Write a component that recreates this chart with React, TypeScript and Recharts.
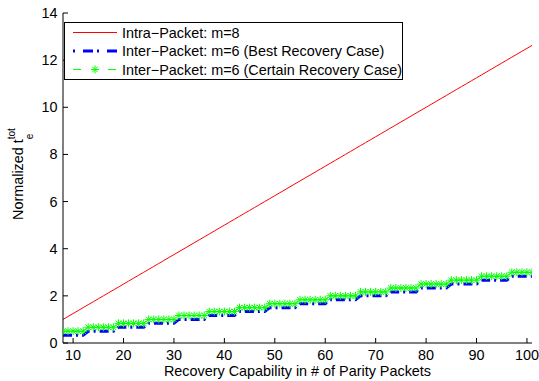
import React from 'react';
import { LineChart, Line, XAxis, YAxis, Legend } from 'recharts';

const xValues = [
  8, 9, 10, 11, 12, 13, 14, 15, 16, 17, 18, 19, 20, 21, 22, 23, 24, 25, 26, 27,
  28, 29, 30, 31, 32, 33, 34, 35, 36, 37, 38, 39, 40, 41, 42, 43, 44, 45, 46, 47,
  48, 49, 50, 51, 52, 53, 54, 55, 56, 57, 58, 59, 60, 61, 62, 63, 64, 65, 66, 67,
  68, 69, 70, 71, 72, 73, 74, 75, 76, 77, 78, 79, 80, 81, 82, 83, 84, 85, 86, 87,
  88, 89, 90, 91, 92, 93, 94, 95, 96, 97, 98, 99, 100, 101,
];

const intraM8 = [
  1, 1.125, 1.25, 1.375, 1.5, 1.625, 1.75, 1.875,
  2, 2.125, 2.25, 2.375, 2.5, 2.625, 2.75, 2.875,
  3, 3.125, 3.25, 3.375, 3.5, 3.625, 3.75, 3.875,
  4, 4.125, 4.25, 4.375, 4.5, 4.625, 4.75, 4.875,
  5, 5.125, 5.25, 5.375, 5.5, 5.625, 5.75, 5.875,
  6, 6.125, 6.25, 6.375, 6.5, 6.625, 6.75, 6.875,
  7, 7.125, 7.25, 7.375, 7.5, 7.625, 7.75, 7.875,
  8, 8.125, 8.25, 8.375, 8.5, 8.625, 8.75, 8.875,
  9, 9.125, 9.25, 9.375, 9.5, 9.625, 9.75, 9.875,
  10, 10.125, 10.25, 10.375, 10.5, 10.625, 10.75, 10.875,
  11, 11.125, 11.25, 11.375, 11.5, 11.625, 11.75, 11.875,
  12, 12.125, 12.25, 12.375, 12.5, 12.625,
];

const interBest = [
  0.333, 0.333, 0.333, 0.333, 0.333,
  0.5, 0.5, 0.5, 0.5, 0.5, 0.5,
  0.667, 0.667, 0.667, 0.667, 0.667, 0.667,
  0.833, 0.833, 0.833, 0.833, 0.833, 0.833,
  1, 1, 1, 1, 1, 1,
  1.167, 1.167, 1.167, 1.167, 1.167, 1.167,
  1.333, 1.333, 1.333, 1.333, 1.333, 1.333,
  1.5, 1.5, 1.5, 1.5, 1.5, 1.5,
  1.667, 1.667, 1.667, 1.667, 1.667, 1.667,
  1.833, 1.833, 1.833, 1.833, 1.833, 1.833,
  2, 2, 2, 2, 2, 2,
  2.167, 2.167, 2.167, 2.167, 2.167, 2.167,
  2.333, 2.333, 2.333, 2.333, 2.333, 2.333,
  2.5, 2.5, 2.5, 2.5, 2.5, 2.5,
  2.667, 2.667, 2.667, 2.667, 2.667, 2.667,
  2.833, 2.833, 2.833, 2.833, 2.833,
];

const interCertain = [
  0.5, 0.5, 0.5, 0.5, 0.5,
  0.667, 0.667, 0.667, 0.667, 0.667, 0.667,
  0.833, 0.833, 0.833, 0.833, 0.833, 0.833,
  1, 1, 1, 1, 1, 1,
  1.167, 1.167, 1.167, 1.167, 1.167, 1.167,
  1.333, 1.333, 1.333, 1.333, 1.333, 1.333,
  1.5, 1.5, 1.5, 1.5, 1.5, 1.5,
  1.667, 1.667, 1.667, 1.667, 1.667, 1.667,
  1.833, 1.833, 1.833, 1.833, 1.833, 1.833,
  2, 2, 2, 2, 2, 2,
  2.167, 2.167, 2.167, 2.167, 2.167, 2.167,
  2.333, 2.333, 2.333, 2.333, 2.333, 2.333,
  2.5, 2.5, 2.5, 2.5, 2.5, 2.5,
  2.667, 2.667, 2.667, 2.667, 2.667, 2.667,
  2.833, 2.833, 2.833, 2.833, 2.833, 2.833,
  3, 3, 3, 3, 3,
];

const xTicks = [10, 20, 30, 40, 50, 60, 70, 80, 90, 100];
const yTicks = [0, 2, 4, 6, 8, 10, 12, 14];
const xDomain = [8, 101];
const yDomain = [0, 14];

const seriesNames = [
  'Intra\u2212Packet: m=8',
  'Inter\u2212Packet: m=6 (Best Recovery Case)',
  'Inter\u2212Packet: m=6 (Certain Recovery Case)',
];
const xLabel = 'Recovery Capability in # of Parity Packets';
const yLabelMain = 'Normalized t';
const yLabelSup = 'tot';
const yLabelSub = 'e';

const data = xValues.map((x, i) => ({
  x,
  intra: intraM8[i],
  best: interBest[i],
  certain: interCertain[i],
}));

const FONT = 'Arial, "Liberation Sans", Helvetica, sans-serif';
const FS = 14.4;
const RED = '#ff0000';
const BLUE = '#0000ff';
const GREEN = '#00ff00';
const BLUE_DASH = '9 4 2 4';

const Star = (cx: number, cy: number, r: number, key?: any) => (
  <g key={key}>
    <line x1={cx - r} y1={cy} x2={cx + r} y2={cy} stroke={GREEN} strokeWidth={1} />
    <line x1={cx} y1={cy - r} x2={cx} y2={cy + r} stroke={GREEN} strokeWidth={1} />
    <line x1={cx - r * 0.7} y1={cy - r * 0.7} x2={cx + r * 0.7} y2={cy + r * 0.7} stroke={GREEN} strokeWidth={1} />
    <line x1={cx - r * 0.7} y1={cy + r * 0.7} x2={cx + r * 0.7} y2={cy - r * 0.7} stroke={GREEN} strokeWidth={1} />
  </g>
);

const renderStar = (props: any) => {
  const { cx, cy, key, index } = props;
  if (cx == null || cy == null) return <g key={key ?? index} />;
  return Star(cx, cy, 4, key ?? `s-${index}`);
};

const BottomTick = (props: any) => {
  const { x, y, payload } = props;
  return (
    <g>
      <line x1={x} y1={y} x2={x} y2={y - 5} stroke="#000" strokeWidth={1} />
      <text x={x} y={y + 17} textAnchor="middle" fontSize={FS} fontFamily={FONT} fill="#000">
        {payload.value}
      </text>
    </g>
  );
};

const TopTick = (props: any) => {
  const { x, y } = props;
  return <line x1={x} y1={y} x2={x} y2={y + 5} stroke="#000" strokeWidth={1} />;
};

const LeftTick = (props: any) => {
  const { x, y, payload } = props;
  return (
    <g>
      <line x1={x} y1={y} x2={x + 5} y2={y} stroke="#000" strokeWidth={1} />
      <text x={x - 5.5} y={y + 5} textAnchor="end" fontSize={FS} fontFamily={FONT} fill="#000">
        {payload.value}
      </text>
    </g>
  );
};

const RightTick = (props: any) => {
  const { x, y } = props;
  return <line x1={x} y1={y} x2={x - 5} y2={y} stroke="#000" strokeWidth={1} />;
};

const XLabel = (props: any) => {
  const vb = props.viewBox || { x: 63, y: 343, width: 469, height: 38 };
  return (
    <text x={vb.x + vb.width / 2} y={vb.y + 33} textAnchor="middle" fontSize={FS} fontFamily={FONT} fill="#000">
      {xLabel}
    </text>
  );
};

const YLabel = (props: any) => {
  const vb = props.viewBox || { x: 0, y: 13, width: 63, height: 330 };
  const cx = vb.x + 23;
  const cy = vb.y + vb.height / 2;
  return (
    <g transform={`translate(${cx},${cy}) rotate(-90)`}>
      <text x={-42} y={0} fontSize={FS} fontFamily={FONT} fill="#000">
        {yLabelMain}
        <tspan dy={-8} fontSize={10}>{yLabelSup}</tspan>
      </text>
      <text x={-42} y={0} fontSize={FS} fontFamily={FONT} fill="#000">
        <tspan fill="none">{yLabelMain}</tspan>
        <tspan dy={10} fontSize={10}>{yLabelSub}</tspan>
      </text>
    </g>
  );
};

const LegendBox = () => {
  const rows = [10.5, 29, 47.5];
  return (
    <svg width={340} height={59} style={{ display: 'block' }}>
      <rect x={0.5} y={0.5} width={338} height={57} fill="#fff" stroke="#000" strokeWidth={1} />
      <line x1={9} y1={rows[0]} x2={53} y2={rows[0]} stroke={RED} strokeWidth={1} />
      <line x1={9} y1={rows[1]} x2={53} y2={rows[1]} stroke={BLUE} strokeWidth={3} strokeDasharray="2 8 10 4" />
      <line x1={9} y1={rows[2]} x2={53} y2={rows[2]} stroke={GREEN} strokeWidth={1} strokeDasharray="8 27" />
      {Star(31, rows[2], 4, 'ls')}
      {seriesNames.map((n, i) => (
        <text key={n} x={58} y={rows[i] + 5} fontSize={FS} fontFamily={FONT} fill="#000">
          {n}
        </text>
      ))}
    </svg>
  );
};

export default function App() {
  return (
    <div style={{ position: 'absolute', left: 0, top: 0, width: 539, height: 381, background: '#fff' }}>
      <LineChart
        width={539}
        height={381}
        data={data}
        margin={{ top: 13, right: 7, bottom: 0, left: 0 }}
      >
        <XAxis
          dataKey="x"
          type="number"
          domain={xDomain}
          ticks={xTicks}
          allowDataOverflow
          height={38}
          tickLine={false}
          tickSize={0}
          tickMargin={0}
          axisLine={{ stroke: '#000', strokeWidth: 1 }}
          tick={<BottomTick />}
          interval={0}
          label={<XLabel />}
        />
        <XAxis
          xAxisId="top"
          orientation="top"
          dataKey="x"
          type="number"
          domain={xDomain}
          ticks={xTicks}
          allowDataOverflow
          height={0}
          tickLine={false}
          tickSize={0}
          tickMargin={0}
          axisLine={{ stroke: '#000', strokeWidth: 1 }}
          tick={<TopTick />}
          interval={0}
        />
        <YAxis
          type="number"
          domain={yDomain}
          ticks={yTicks}
          allowDataOverflow
          width={63}
          tickLine={false}
          tickSize={0}
          tickMargin={0}
          axisLine={{ stroke: '#000', strokeWidth: 1 }}
          tick={<LeftTick />}
          interval={0}
          label={<YLabel />}
        />
        <YAxis
          yAxisId="right"
          orientation="right"
          type="number"
          domain={yDomain}
          ticks={yTicks}
          allowDataOverflow
          width={0}
          tickLine={false}
          tickSize={0}
          tickMargin={0}
          axisLine={{ stroke: '#000', strokeWidth: 1 }}
          tick={<RightTick />}
          interval={0}
        />
        <Line
          dataKey="intra"
          name={seriesNames[0]}
          stroke={RED}
          strokeWidth={1}
          dot={false}
          activeDot={false}
          isAnimationActive={false}
        />
        <Line
          dataKey="best"
          name={seriesNames[1]}
          stroke={BLUE}
          strokeWidth={3}
          strokeDasharray={BLUE_DASH}
          dot={false}
          activeDot={false}
          isAnimationActive={false}
        />
        <Line
          dataKey="certain"
          name={seriesNames[2]}
          stroke={GREEN}
          strokeWidth={1}
          strokeDasharray="6 4"
          dot={renderStar}
          activeDot={false}
          isAnimationActive={false}
        />
        <Legend
          layout="horizontal"
          verticalAlign="middle"
          align="center"
          content={<LegendBox />}
          wrapperStyle={{ position: 'absolute', left: 64, top: 22, width: 340, height: 59, margin: 0, padding: 0 }}
        />
      </LineChart>
    </div>
  );
}
